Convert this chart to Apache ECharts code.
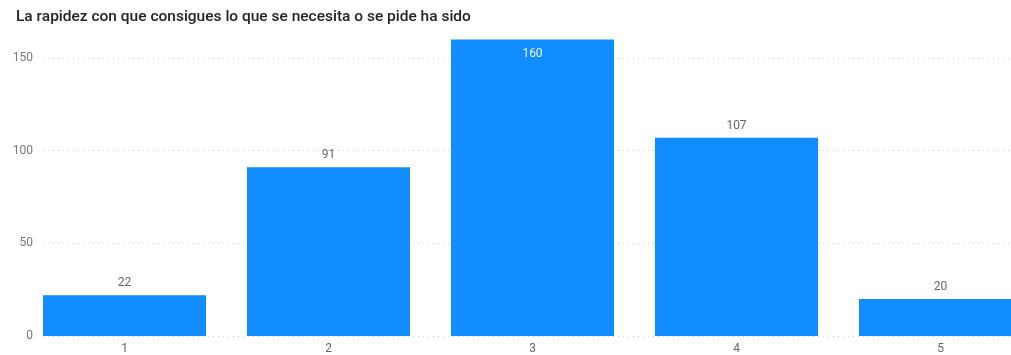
<!DOCTYPE html>
<html>
<head>
<meta charset="utf-8">
<script src="https://cdn.jsdelivr.net/npm/echarts@6/dist/echarts.min.js"></script>
<style>
  html, body { margin: 0; padding: 0; background: #fff; }
  #chart { width: 1011px; height: 355px; }
</style>
</head>
<body>
<div id="chart"></div>
<script>
// Rating scale and number of answers per rating
const categories = ['1', '2', '3', '4', '5'];
const counts = [22, 91, 160, 107, 20];
const yTicks = [0, 50, 100, 150];

const titleText = 'La rapidez con que consigues lo que se necesita o se pide ha sido';
const barColor = '#118DFF';
const textGrey = '#666666';

const chart = echarts.init(document.getElementById('chart'), null, { renderer: 'canvas' });

// Bars sit on a numeric x axis so the plot can start flush with the first bar
const barData = categories.map((c, i) => ({
  value: [Number(c), counts[i]],
  label: counts[i] >= 150
    ? { position: 'insideTop', distance: 9, color: '#eef5ff' }
    : { position: 'top', distance: 6, color: textGrey }
}));

const yMax = 180;
const pxPerUnit = (336 - 58) / 150;

chart.setOption({
  animation: false,
  title: {
    text: titleText,
    left: 11,
    top: 4,
    textStyle: { fontFamily: 'Roboto', fontSize: 15.5, fontWeight: 500, color: '#252423' }
  },
  grid: { left: 43, right: 0, top: 336 - yMax * pxPerUnit, bottom: 19, containLabel: false },
  xAxis: {
    type: 'value',
    min: 1 - 81.5 / 204,
    max: 1 + (1011 - 43 - 81.5) / 204,
    axisLine: { show: false },
    axisTick: { show: false },
    splitLine: { show: false },
    axisLabel: {
      customValues: categories.map(Number),
      formatter: v => String(v),
      color: textGrey,
      fontFamily: 'Roboto',
      fontSize: 12,
      margin: 7
    }
  },
  yAxis: {
    type: 'value',
    min: 0,
    max: yMax,
    interval: 50,
    axisLine: { show: false },
    axisTick: { show: false },
    axisLabel: {
      color: '#777777',
      fontFamily: 'Roboto',
      fontSize: 12,
      margin: 10,
      formatter: v => (yTicks.includes(v) ? String(v) : '')
    },
    splitLine: { showMaxLine: false, lineStyle: { color: '#cfcfcf', type: [1, 4], width: 1 } }
  },
  series: [{
    type: 'bar',
    data: barData,
    barWidth: 163,
    itemStyle: { color: barColor },
    label: { show: true, fontFamily: 'Roboto', fontSize: 12 }
  }]
});
</script>
</body>
</html>
